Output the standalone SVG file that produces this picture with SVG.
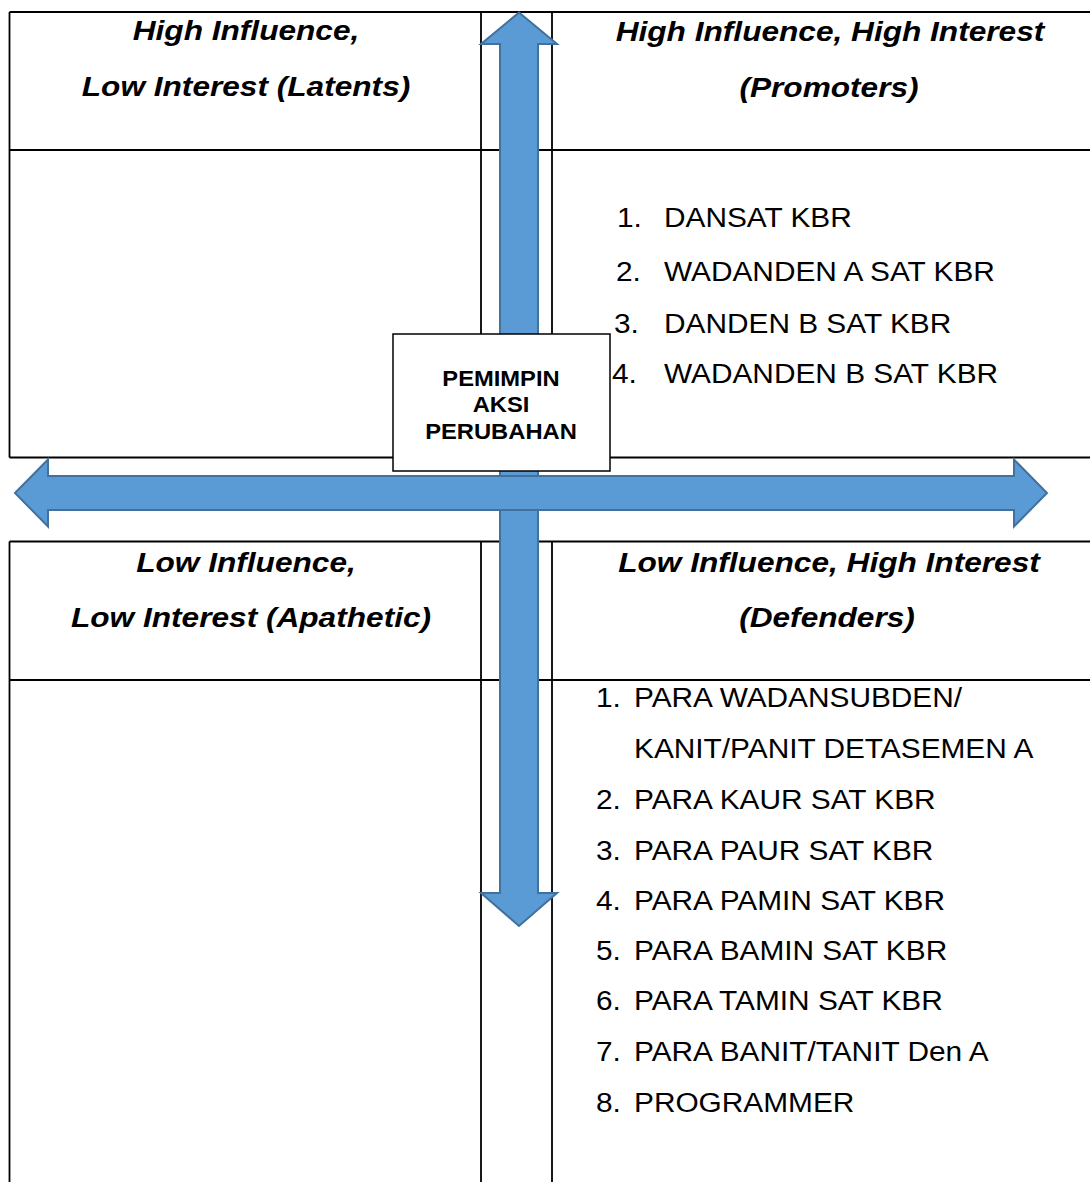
<svg xmlns="http://www.w3.org/2000/svg" width="1090" height="1182" viewBox="0 0 1090 1182">
<style>
.ln{stroke:#000;stroke-width:1.8;fill:none}
.hd{font-family:"Liberation Sans",Arial,sans-serif;font-weight:bold;font-style:italic;font-size:27.5px;fill:#000;text-anchor:middle}
.tx{font-family:"Liberation Sans",Arial,sans-serif;font-size:27px;fill:#000}
.bx{font-family:"Liberation Sans",Arial,sans-serif;font-weight:bold;font-size:22px;fill:#000;text-anchor:middle}
.arr{fill:#5B9BD5;stroke:#41719C;stroke-width:2;stroke-linejoin:miter}
</style>
<rect width="1090" height="1182" fill="#fff"/>
<g id="grid">
<path class="ln" d="M9.5,12 H1092 M9.5,150 H1092 M9.5,457.5 H1092 M9.5,12 V457.5 M481,12 V457.5 M552,12 V457.5"/>
<path class="ln" d="M9.5,541.5 H1092 M9.5,680 H1092 M9.5,541.5 V1184 M481,541.5 V1184 M552,541.5 V1184"/>
</g>
<g id="quadrant-latents">
<text class="hd" transform="translate(246 40) scale(1.15 1)">High Influence,</text>
<text class="hd" transform="translate(246 96) scale(1.15 1)">Low Interest (Latents)</text>
</g>
<g id="quadrant-promoters">
<text class="hd" transform="translate(830 41) scale(1.15 1)">High Influence, High Interest</text>
<text class="hd" transform="translate(829 97) scale(1.15 1)">(Promoters)</text>
<text class="tx" transform="translate(617 227.3) scale(1.105 1)">1.</text>
<text class="tx" transform="translate(664 227.3) scale(1.105 1)">DANSAT KBR</text>
<text class="tx" transform="translate(616 280.7) scale(1.105 1)">2.</text>
<text class="tx" transform="translate(664 280.7) scale(1.105 1)">WADANDEN A SAT KBR</text>
<text class="tx" transform="translate(614 332.7) scale(1.105 1)">3.</text>
<text class="tx" transform="translate(664 332.7) scale(1.105 1)">DANDEN B SAT KBR</text>
<text class="tx" transform="translate(612 383.3) scale(1.105 1)">4.</text>
<text class="tx" transform="translate(664 383.3) scale(1.105 1)">WADANDEN B SAT KBR</text>
</g>
<g id="quadrant-apathetic">
<text class="hd" transform="translate(246 572) scale(1.15 1)">Low Influence,</text>
<text class="hd" transform="translate(251 627) scale(1.15 1)">Low Interest (Apathetic)</text>
</g>
<g id="quadrant-defenders">
<text class="hd" transform="translate(829 572) scale(1.15 1)">Low Influence, High Interest</text>
<text class="hd" transform="translate(827 627) scale(1.15 1)">(Defenders)</text>
<text class="tx" transform="translate(596 707) scale(1.105 1)">1.</text>
<text class="tx" transform="translate(634 707) scale(1.105 1)">PARA WADANSUBDEN/</text>
<text class="tx" transform="translate(634 757.5) scale(1.105 1)">KANIT/PANIT DETASEMEN A</text>
<text class="tx" transform="translate(596 809) scale(1.105 1)">2.</text>
<text class="tx" transform="translate(634 809) scale(1.105 1)">PARA KAUR SAT KBR</text>
<text class="tx" transform="translate(596 860) scale(1.105 1)">3.</text>
<text class="tx" transform="translate(634 860) scale(1.105 1)">PARA PAUR SAT KBR</text>
<text class="tx" transform="translate(596 910) scale(1.105 1)">4.</text>
<text class="tx" transform="translate(634 910) scale(1.105 1)">PARA PAMIN SAT KBR</text>
<text class="tx" transform="translate(596 960) scale(1.105 1)">5.</text>
<text class="tx" transform="translate(634 960) scale(1.105 1)">PARA BAMIN SAT KBR</text>
<text class="tx" transform="translate(596 1010) scale(1.105 1)">6.</text>
<text class="tx" transform="translate(634 1010) scale(1.105 1)">PARA TAMIN SAT KBR</text>
<text class="tx" transform="translate(596 1060.5) scale(1.105 1)">7.</text>
<text class="tx" transform="translate(634 1060.5) scale(1.105 1)">PARA BANIT/TANIT Den A</text>
<text class="tx" transform="translate(596 1111.5) scale(1.105 1)">8.</text>
<text class="tx" transform="translate(634 1111.5) scale(1.105 1)">PROGRAMMER</text>
</g>
<g id="connectors">
<path id="arrow-vertical" class="arr" d="M519,12.5 L557,44 L538,44 L538,893 L557,893 L519,926 L481,893 L500,893 L500,44 L481,44 Z"/>
<path id="arrow-horizontal" class="arr" d="M15,493 L48,459.5 L48,476 L1014,476 L1014,459.5 L1047,493 L1014,526.5 L1014,510 L48,510 L48,526.5 Z"/>
</g>
<g id="node-pemimpin">
<rect x="393" y="334" width="217" height="137" fill="#fff" stroke="#000" stroke-width="1.5"/>
<text class="bx" transform="translate(501 385.7) scale(1.08 1)">PEMIMPIN</text>
<text class="bx" transform="translate(501 412.3) scale(1.08 1)">AKSI</text>
<text class="bx" transform="translate(501 439) scale(1.08 1)">PERUBAHAN</text>
</g>
</svg>
